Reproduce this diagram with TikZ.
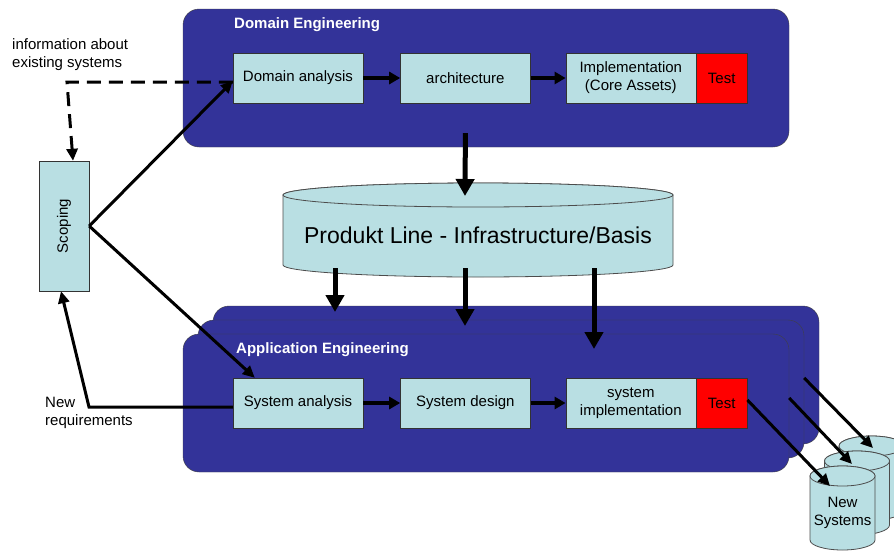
\documentclass[tikz,border=0pt]{standalone}
\usepackage{fontspec}
\setmainfont{Liberation Sans}
\usepackage{xcolor}
\usetikzlibrary{arrows.meta,positioning}
\definecolor{engblue}{RGB}{51,51,153}
\definecolor{stepcyan}{RGB}{185,223,227}
\definecolor{testred}{RGB}{255,0,0}
\tikzset{
    engbox/.style={
        draw=black!75,
        fill=engblue,
        rounded corners=16pt,
        minimum width=606pt,
        minimum height=138pt
    },
    stepbox/.style={
        draw=black!80,
        fill=stepcyan,
        minimum width=130pt,
        minimum height=50pt,
        align=center,
        font=\fontsize{15}{18}\selectfont
    },
    testbox/.style={
        stepbox,
        fill=testred,
        minimum width=51pt
    },
    titlelabel/.style={
        anchor=west,
        inner sep=0pt,
        text=white,
        font=\fontsize{15}{18}\selectfont\bfseries
    },
    notelabel/.style={
        anchor=west,
        inner sep=0pt,
        align=left,
        font=\fontsize{15}{18}\selectfont
    },
    drumline/.style={
        draw=black!70,
        fill=stepcyan,
        line width=0.8pt
    },
    stepptr/.style={
        -{Triangle[length=11pt,width=12pt]},
        line width=3.5pt
    },
    feedptr/.style={
        -{Triangle[length=12pt,width=11pt]},
        line width=3pt
    },
    infoptr/.style={
        feedptr,
        dash pattern=on 14pt off 8pt
    },
    baseptr/.style={
        -{Triangle[length=17pt,width=18pt]},
        line width=5pt
    }
}
% cylinder: centre x, top y, bottom y, x radius, y radius
\newcommand{\drum}[5]{%
    \filldraw[drumline] (#1-#4,#2) -- (#1-#4,#3)
        arc[start angle=180, end angle=360, x radius=#4pt, y radius=#5pt]
        -- (#1+#4,#2)
        arc[start angle=0, end angle=180, x radius=#4pt, y radius=#5pt] -- cycle;
    \draw[drumline] (#1,#2) ellipse[x radius=#4pt, y radius=#5pt];
}

\begin{document}
\begin{tikzpicture}[x=1pt,y=-1pt]
        \useasboundingbox (0,0) rectangle (894,552);

        % domain engineering
        \node[engbox] (dom) at (486,78) {};
        \node[titlelabel] (domt) at (234,25) {Domain Engineering};
        \node[stepbox] (da) at (298,78) {Domain analysis};
        \node[stepbox, right=37pt of da] (arch) {architecture};
        \node[stepbox, right=35pt of arch] (impl) {Implementation\\(Core Assets)};
        \node[testbox, right=0pt of impl] (dtest) {Test};

        % application engineering, stacked
        \node[engbox] (app3) at (516,375) {};
        \node[engbox] (app2) at (501,389) {};
        \node[engbox] (app) at (486,403) {};
        \node[titlelabel] (appt) at (236,350) {Application Engineering};
        \node[stepbox] (sa) at (298,403) {System analysis};
        \node[stepbox, right=37pt of sa] (sd) {System design};
        \node[stepbox, right=35pt of sd] (si) {system\\implementation};
        \node[testbox, right=0pt of si] (atest) {Test};

        % scoping and notes
        \node[stepbox, minimum width=50pt, minimum height=130pt] (sc) at (64,226) {\rotatebox{90}{Scoping}};
        \node[notelabel] (info) at (12,55) {information about\\existing systems};
        \node[notelabel] (newreq) at (45,413) {New\\requirements};

        % product line base
        \drum{478}{195}{265}{195}{12}
        \node[font=\fontsize{23}{27}\selectfont] (pl) at (478,235) {Produkt Line - Infrastructure/Basis};

        % new systems
        \foreach \cx/\ty in {871.5/446, 857/461, 842.5/476}
        {
            \drum{\cx}{\ty}{\ty+64}{32.5}{10}
        }
        \node[align=center, font=\fontsize{15}{18}\selectfont] (ns) at (842.5,513) {New\\Systems};

        % helper points
        \coordinate (pltop) at (465,196);
        \coordinate (plb) at (478,268);
        \coordinate (in1) at (335,312);
        \coordinate (in2) at (465,326);
        \coordinate (in3) at (594,349);
        \coordinate (dc) at (67,82);
        \coordinate (nr) at (89,407);
        \coordinate (out1) at (830,486);
        \coordinate (out2) at (852,464);
        \coordinate (out3) at (873,448);

        % process arrows
        \draw[stepptr] (da) -- (arch);
        \draw[stepptr] (arch) -- (impl);
        \draw[stepptr] (sa) -- (sd);
        \draw[stepptr] (sd) -- (si);

        % base arrows
        \draw[baseptr] ([yshift=-30pt]arch.south) -- (pltop);
        \foreach \p in {in1,in2,in3}
        {
            \draw[baseptr] (\p |- plb) -- (\p);
        }

        % scoping arrows
        \draw[infoptr] ([yshift=-4pt]da.west) -- (dc) -- ([xshift=9pt]sc.north);
        \draw[feedptr] (sc.east) -- ([yshift=-3pt]da.west);
        \draw[feedptr] (sc.east) -- ([xshift=22pt]sa.north west);
        \draw[feedptr] ([yshift=-4pt]sa.west) -- (nr) -- ([xshift=-3pt]sc.south);

        % output arrows
        \draw[feedptr] ([yshift=3pt]atest.east) -- (out1);
        \draw[feedptr] ([yshift=5pt]app.east) -- (out2);
        \draw[feedptr] ([yshift=11pt]app2.east) -- (out3);
    \end{tikzpicture}
\end{document}
